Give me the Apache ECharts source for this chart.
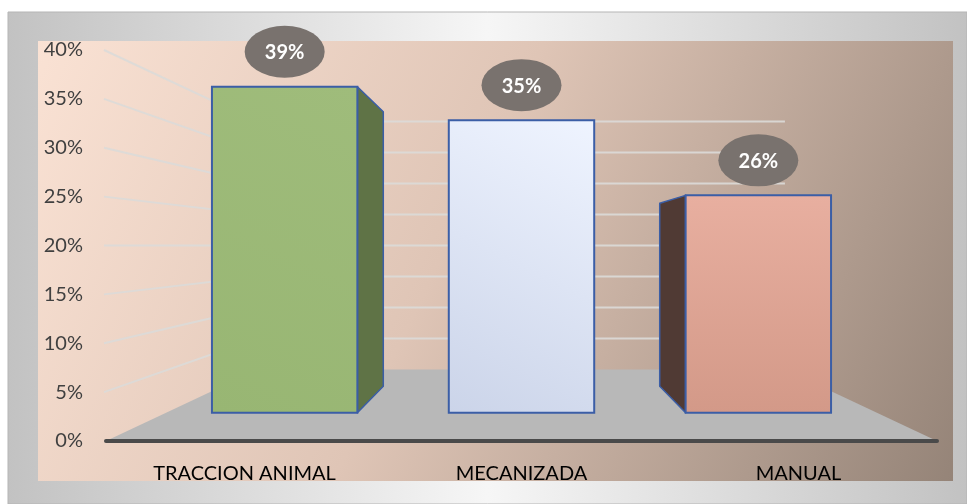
<!DOCTYPE html>
<html><head><meta charset="utf-8">
<script src="https://cdn.jsdelivr.net/npm/echarts@6/dist/echarts.min.js"></script>
<style>html,body{margin:0;padding:0;background:#fff}#c{width:967px;height:504px}</style>
</head><body><div id="c"></div>
<script>
// ---- data ----
const categories = ['TRACCION ANIMAL', 'MECANIZADA', 'MANUAL'];
const values = [39, 35, 26];
const valueLabels = ['39%', '35%', '26%'];
const tickValues = [5, 10, 15, 20, 25, 30, 35, 40];

// ---- styles ----
const FONT = 'Lato, "Open Sans", "Liberation Sans", sans-serif';
const frontFills = [
  {type:'linear',x:0,y:1,x2:1,y2:0,colorStops:[{offset:0,color:'#98b673'},{offset:1,color:'#9fbc7b'}]},
  {type:'linear',x:0,y:1,x2:1,y2:0,colorStops:[{offset:0,color:'#cbd4e9'},{offset:1,color:'#eff4ff'}]},
  {type:'linear',x:0,y:0,x2:0,y2:1,colorStops:[{offset:0,color:'#e8afa0'},{offset:1,color:'#d39988'}]}
];
const sideFills = ['#5f7346', '#8d9ab8', '#503a34'];
const EDGE = '#3b5ea6';
const S_FRONT = 0.855, S_BACK = 0.72, S_WALL = 0.634; // perspective depth factors
const EYE_VALUE = 20; // eye height in axis units, at centre category

function persp(pt, vp, s) { return [vp[0] + (pt[0] - vp[0]) * s, vp[1] + (pt[1] - vp[1]) * s]; }

const chart = echarts.init(document.getElementById('c'), null, {renderer: 'canvas'});

const barData = values.map((v, i) => [i, v]);
const tickData = tickValues.map(v => [1, v]);

chart.setOption({
  animation: false,
  graphic: [
    {type:'rect', z:-10, shape:{x:8,y:12,width:959,height:492},
     style:{fill:{type:'linear',x:0,y:0,x2:1,y2:0,colorStops:[{offset:0,color:'#c2c2c2'},{offset:0.5,color:'#f6f6f6'},{offset:1,color:'#c2c2c2'}]}, stroke:'#b5b5b5', lineWidth:1}},
    {type:'rect', z:-9, shape:{x:38,y:41,width:915,height:440},
     style:{fill:{type:'linear',x:0,y:0,x2:1,y2:1,colorStops:[{offset:0,color:'#fae2d4'},{offset:0.45,color:'#dfc5b6'},{offset:1,color:'#958478'}]}}}
  ],
  grid: {left: 106, right: 30, top: 50, bottom: 63},
  xAxis: {
    type: 'category', data: categories, z: 3,
    axisLine: {show: true, lineStyle: {color: '#4a4a4a', width: 4}},
    axisTick: {show: false},
    axisLabel: {color: '#000000', fontSize: 20, fontFamily: FONT, margin: 23}
  },
  yAxis: {
    type: 'value', min: 0, max: 40, interval: 5,
    axisLine: {show: false}, axisTick: {show: false},
    splitLine: {show: false},
    axisLabel: {formatter: '{value}%', color: '#404040', fontSize: 20, fontFamily: FONT, margin: 23}
  },
  series: [
    { // floor
      type: 'custom', z: 1, data: [[0, 0]],
      renderItem: function (params, api) {
        const band = api.size([1, 0])[0];
        const vp = api.coord([1, EYE_VALUE]);
        const l = api.coord([0, 0]); l[0] -= band / 2;
        const r = api.coord([categories.length - 1, 0]); r[0] += band / 2;
        return {type: 'polygon', shape: {points: [l, r, persp(r, vp, S_WALL), persp(l, vp, S_WALL)]},
                style: {fill: '#b8b8b8'}};
      }
    },
    { // wall grid lines
      type: 'custom', z: 2, data: tickData,
      renderItem: function (params, api) {
        const band = api.size([1, 0])[0];
        const vp = api.coord([1, EYE_VALUE]);
        const v = api.value(1);
        const l = api.coord([0, v]); l[0] -= band / 2 + 2;
        const r = api.coord([categories.length - 1, v]); r[0] += band / 2;
        const bl = persp(l, vp, S_WALL), br = persp(r, vp, S_WALL);
        const st = {stroke: 'rgba(220,218,216,0.9)', lineWidth: 2, fill: null};
        return {type: 'group', children: [
          {type: 'line', shape: {x1: l[0], y1: l[1], x2: bl[0], y2: bl[1]}, style: st},
          {type: 'line', shape: {x1: bl[0], y1: bl[1], x2: br[0], y2: br[1]}, style: st}
        ]};
      }
    },
    { // 3D bars
      type: 'custom', z: 5, data: barData,
      renderItem: function (params, api) {
        const i = api.value(0), v = api.value(1);
        const band = api.size([1, 0])[0];
        const hw = band * 0.307;
        const vp = api.coord([1, EYE_VALUE]);
        const b = api.coord([i, 0]), t = api.coord([i, v]);
        const LT = [b[0] - hw, t[1]], RT = [b[0] + hw, t[1]], LB = [b[0] - hw, b[1]], RB = [b[0] + hw, b[1]];
        const f = [LT, RT, RB, LB].map(p => persp(p, vp, S_FRONT));
        const children = [];
        if (f[1][0] < vp[0] - 1) {
          children.push({type: 'polygon', shape: {points: [persp(RT, vp, S_FRONT), persp(RT, vp, S_BACK), persp(RB, vp, S_BACK), persp(RB, vp, S_FRONT)]},
            style: {fill: sideFills[i], stroke: EDGE, lineWidth: 1.5, lineJoin: 'round'}});
        } else if (f[0][0] > vp[0] + 1) {
          children.push({type: 'polygon', shape: {points: [persp(LT, vp, S_FRONT), persp(LT, vp, S_BACK), persp(LB, vp, S_BACK), persp(LB, vp, S_FRONT)]},
            style: {fill: sideFills[i], stroke: EDGE, lineWidth: 1.5, lineJoin: 'round'}});
        }
        children.push({type: 'polygon', shape: {points: f},
          style: {fill: frontFills[i], stroke: EDGE, lineWidth: 2}});
        const cx = (f[0][0] + f[1][0]) / 2, cy = f[0][1] - 35;
        children.push({type: 'circle', x: cx, y: cy, scaleX: 40 / 26, shape: {cx: 0, cy: 0, r: 26},
          style: {fill: '#79726e'}});
        children.push({type: 'text', x: cx, y: cy + 1,
          style: {text: valueLabels[i], fill: '#ffffff', font: 'bold 20px ' + FONT, align: 'center', verticalAlign: 'middle'}});
        return {type: 'group', children: children};
      }
    }
  ]
});
</script>
</body></html>
